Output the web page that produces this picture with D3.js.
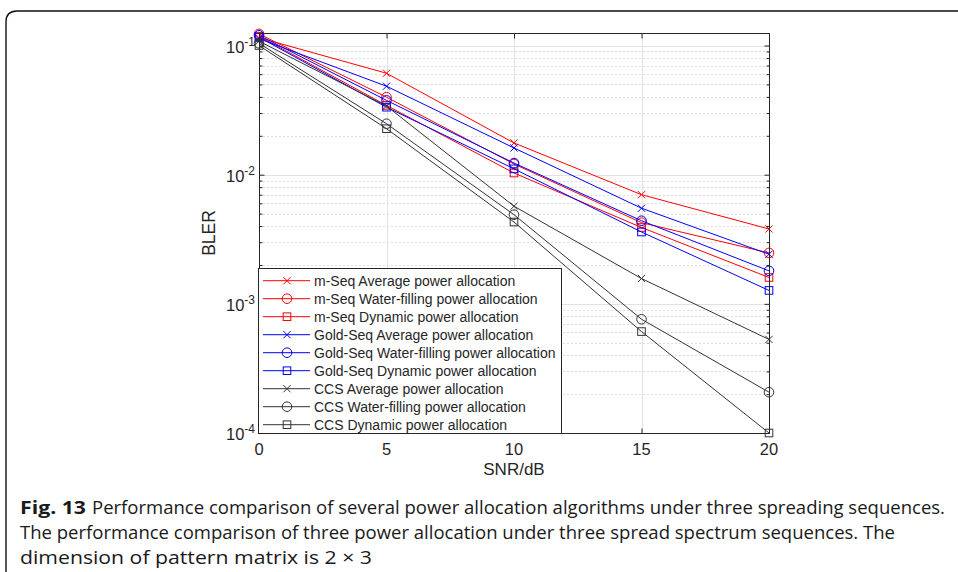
<!DOCTYPE html>
<html>
<head>
<meta charset="utf-8">
<script src="https://cdn.jsdelivr.net/npm/d3@7"></script>
<style>
  body { margin: 0; background: #fff; }
  svg { display: block; }
  .tick-lbl { font-family: "Liberation Sans", Arial, sans-serif; fill: #262626; }
</style>
</head>
<body>
<div id="chart"></div>
<script>
// data (BLER vs SNR)
const snr = [0, 5, 10, 15, 20];
const mSeqAvg  = [0.115, 0.061, 0.0176, 0.0070, 0.0038];
const mSeqWF   = [0.123, 0.0398, 0.0121, 0.00425, 0.00248];
const mSeqDyn  = [0.118, 0.0344, 0.0103, 0.0039, 0.0016];
const goldAvg  = [0.113, 0.0484, 0.0161, 0.0055, 0.00242];
const goldWF   = [0.120, 0.0376, 0.0123, 0.0044, 0.0018];
const goldDyn  = [0.116, 0.0333, 0.0111, 0.0036, 0.00127];
const ccsAvg   = [0.108, 0.0340, 0.0057, 0.00157, 0.00053];
const ccsWF    = [0.104, 0.0248, 0.0049, 0.00076, 0.000207];
const ccsDyn   = [0.100, 0.0227, 0.0043, 0.00061, 0.0001];

const seriesNames = [
  'm-Seq Average power allocation', 'm-Seq Water-filling power allocation', 'm-Seq Dynamic power allocation',
  'Gold-Seq Average power allocation', 'Gold-Seq Water-filling power allocation', 'Gold-Seq Dynamic power allocation',
  'CCS Average power allocation', 'CCS Water-filling power allocation', 'CCS Dynamic power allocation'
];
const seriesValues = [mSeqAvg, mSeqWF, mSeqDyn, goldAvg, goldWF, goldDyn, ccsAvg, ccsWF, ccsDyn];
const seriesColors = ['#ff0000', '#ff0000', '#ff0000', '#0000ff', '#0000ff', '#0000ff', '#333333', '#333333', '#333333'];
const seriesMarkers = ['x', 'o', 's', 'x', 'o', 's', 'x', 'o', 's'];

const xTicks = [0, 5, 10, 15, 20];
const yDecades = [-4, -3, -2, -1];

const captionLines = [
  'Performance comparison of several power allocation algorithms under three spreading sequences.',
  'The performance comparison of three power allocation under three spread spectrum sequences. The',
  'dimension of pattern matrix is 2 \u00d7 3'
];

const W = 958, H = 572;
const svg = d3.select('#chart').append('svg').attr('width', W).attr('height', H);

// outer card frame
svg.append('path')
  .attr('d', 'M6,' + (H + 5) + ' L6,22 Q6,11 17,11 L' + (W + 5) + ',11')
  .attr('fill', 'none').attr('stroke', '#111').attr('stroke-width', 1.4);

const x = d3.scaleLinear().domain([0, 20]).range([259, 769]);
const y = d3.scaleLog().domain([1e-4, 0.125]).range([433, 33]);
const [x0, x1] = x.range();
const [yb, yt] = y.range();

const minors = [];
yDecades.forEach(e => {
  for (let k = 2; k <= 9; k++) {
    const v = k * Math.pow(10, e);
    if (v <= 0.125) minors.push(v);
  }
});

// grid
const grid = svg.append('g');
grid.selectAll('.gmin').data(minors).join('line')
  .attr('x1', x0).attr('x2', x1)
  .attr('y1', d => Math.round(y(d)) + 0.5).attr('y2', d => Math.round(y(d)) + 0.5)
  .attr('stroke', '#dedede').attr('stroke-dasharray', '2,2');
grid.selectAll('.gmaj').data(yDecades.map(e => Math.pow(10, e))).join('line')
  .attr('x1', x0).attr('x2', x1)
  .attr('y1', d => Math.round(y(d)) + 0.5).attr('y2', d => Math.round(y(d)) + 0.5)
  .attr('stroke', '#e2e2e2');
grid.selectAll('.gx').data(xTicks).join('line')
  .attr('x1', d => Math.round(x(d)) + 0.5).attr('x2', d => Math.round(x(d)) + 0.5)
  .attr('y1', yt).attr('y2', yb)
  .attr('stroke', '#e2e2e2');

// series
const line = d3.line().x((d, i) => x(snr[i])).y(d => y(d));
const plot = svg.append('g');
seriesValues.forEach((vals, si) => {
  const col = seriesColors[si];
  plot.append('path').datum(vals)
    .attr('d', line)
    .attr('fill', 'none').attr('stroke', col).attr('stroke-width', 1);
  vals.forEach((v, i) => drawMarker(plot, seriesMarkers[si], x(snr[i]), y(v), col));
});

function drawMarker(g, type, cx, cy, col) {
  if (type === 'x') {
    const s = 3.6;
    g.append('path')
      .attr('d', `M${cx - s},${cy - s}L${cx + s},${cy + s}M${cx - s},${cy + s}L${cx + s},${cy - s}`)
      .attr('stroke', col).attr('stroke-width', 1).attr('fill', 'none');
  } else if (type === 'o') {
    g.append('circle').attr('cx', cx).attr('cy', cy).attr('r', 4.8)
      .attr('fill', 'none').attr('stroke', col).attr('stroke-width', 1);
  } else {
    g.append('rect').attr('x', cx - 3.8).attr('y', cy - 3.8).attr('width', 7.6).attr('height', 7.6)
      .attr('fill', 'none').attr('stroke', col).attr('stroke-width', 1);
  }
}

// axes (box with inward ticks)
const axisCol = '#262626';
const ax = svg.append('g');
ax.append('rect').attr('x', x0 + 0.5).attr('y', yt + 0.5).attr('width', x1 - x0).attr('height', yb - yt)
  .attr('fill', 'none').attr('stroke', axisCol).attr('stroke-width', 1);

function styleAxis(g) {
  g.select('.domain').remove();
  g.selectAll('.tick line').attr('stroke', axisCol);
  g.selectAll('.tick text').remove();
}
ax.append('g').attr('transform', `translate(0,${yb + 0.5})`)
  .call(d3.axisBottom(x).tickValues(xTicks).tickSize(-5)).call(styleAxis);
ax.append('g').attr('transform', `translate(0,${yt + 0.5})`)
  .call(d3.axisTop(x).tickValues(xTicks).tickSize(-5)).call(styleAxis);
const decVals = yDecades.map(e => Math.pow(10, e));
ax.append('g').attr('transform', `translate(${x0 + 0.5},0)`)
  .call(d3.axisLeft(y).tickValues(decVals).tickSize(-5)).call(styleAxis);
ax.append('g').attr('transform', `translate(${x1 + 0.5},0)`)
  .call(d3.axisRight(y).tickValues(decVals).tickSize(-5)).call(styleAxis);
ax.append('g').attr('transform', `translate(${x0 + 0.5},0)`)
  .call(d3.axisLeft(y).tickValues(minors).tickSize(-3)).call(styleAxis);
ax.append('g').attr('transform', `translate(${x1 + 0.5},0)`)
  .call(d3.axisRight(y).tickValues(minors).tickSize(-3)).call(styleAxis);

// tick labels
svg.append('g').selectAll('text').data(xTicks).join('text')
  .attr('class', 'tick-lbl')
  .attr('x', d => x(d)).attr('y', yb + 22)
  .attr('text-anchor', 'middle').attr('font-size', 16.5)
  .text(d => d);

const yl = svg.append('g').selectAll('text').data(yDecades).join('text')
  .attr('class', 'tick-lbl')
  .attr('x', x0 - 4).attr('y', d => y(Math.pow(10, d)) + 7)
  .attr('text-anchor', 'end').attr('font-size', 16.5);
yl.append('tspan').text('10');
yl.append('tspan').attr('font-size', 12).attr('dy', -7).text(d => '-' + (-d));

// axis titles
svg.append('text').attr('class', 'tick-lbl')
  .attr('x', (x0 + x1) / 2).attr('y', 475).attr('text-anchor', 'middle').attr('font-size', 17)
  .text('SNR/dB');
svg.append('text').attr('class', 'tick-lbl')
  .attr('transform', `translate(215,${(yt + yb) / 2}) rotate(-90)`)
  .attr('text-anchor', 'middle').attr('font-size', 17.5)
  .text('BLER');

// legend
const lg = svg.append('g');
lg.append('rect').attr('x', 258.5).attr('y', 268.5).attr('width', 303).attr('height', 165)
  .attr('fill', '#fff').attr('stroke', axisCol).attr('stroke-width', 1);
seriesNames.forEach((name, i) => {
  const cy = 280.7 + i * 18;
  lg.append('line').attr('x1', 263).attr('x2', 310).attr('y1', cy).attr('y2', cy)
    .attr('stroke', seriesColors[i]).attr('stroke-width', 1);
  drawMarker(lg, seriesMarkers[i], 287, cy, seriesColors[i]);
  lg.append('text').attr('class', 'tick-lbl')
    .attr('x', 314).attr('y', cy + 5).attr('font-size', 14)
    .text(name);
});

// caption
const cap = svg.append('g').style('font-family', '"Open Sans", "Noto Sans", sans-serif').attr('fill', '#1a1a1a');
cap.append('text').attr('x', 20).attr('y', 514).attr('font-size', 18).attr('font-weight', 'bold')
  .attr('textLength', 66).attr('lengthAdjust', 'spacingAndGlyphs').text('Fig. 13');
cap.append('text').attr('x', 92).attr('y', 514).attr('font-size', 18)
  .attr('textLength', 853).attr('lengthAdjust', 'spacingAndGlyphs').text(captionLines[0]);
cap.append('text').attr('x', 20).attr('y', 539).attr('font-size', 18)
  .attr('textLength', 875).attr('lengthAdjust', 'spacingAndGlyphs').text(captionLines[1]);
cap.append('text').attr('x', 20).attr('y', 564).attr('font-size', 18)
  .attr('textLength', 352).attr('lengthAdjust', 'spacingAndGlyphs').text(captionLines[2]);
</script>
</body>
</html>
